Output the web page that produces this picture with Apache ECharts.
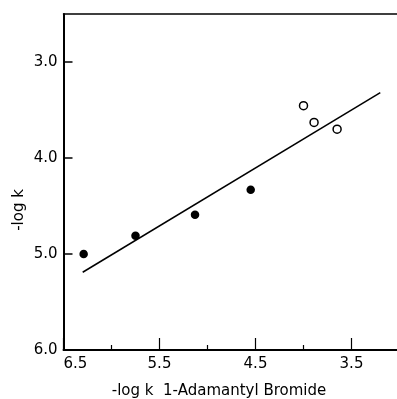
<!DOCTYPE html>
<html>
<head>
<meta charset="utf-8">
<script src="https://cdn.jsdelivr.net/npm/echarts@6/dist/echarts.min.js"></script>
<style>
html,body{margin:0;padding:0;background:#fff;overflow:hidden;}
#chart{width:397px;height:399px;overflow:hidden;}
</style>
</head>
<body>
<div id="chart"></div>
<script>
// Data
var filledX = [6.29, 5.75, 5.13, 4.55];
var filledY = [5.00, 4.81, 4.59, 4.33];
var openX = [4.00, 3.89, 3.65];
var openY = [3.455, 3.63, 3.70];
var fitX = [6.30, 3.20];
var fitY = [5.19, 3.32];
var xMajorTicks = [6.5, 5.5, 4.5, 3.5];
var xMinorTicks = [6.0, 5.0, 4.0];
var yTicks = [3.0, 4.0, 5.0, 6.0];
var xTitle = '-log k  1-Adamantyl Bromide';
var yTitle = '-log k';

function pairs(xs, ys){ return xs.map(function(x,i){ return [x, ys[i]]; }); }

var font = 'DejaVu Sans';
var chart = echarts.init(document.getElementById('chart'), null, {renderer:'canvas'});
chart.setOption({
  animation: false,
  backgroundColor: '#fff',
  grid: {left: 63.5, top: 14, width: 336, height: 336, outerBoundsMode: 'none', containLabel: false},
  xAxis: [{
    type: 'value', min: 3.0, max: 6.5, inverse: true, position: 'bottom',
    axisLine: {show: true, onZero: false, lineStyle: {color: '#000', width: 2}},
    axisTick: {show: true, inside: true, length: 12, customValues: xMajorTicks, lineStyle: {color: '#000', width: 1.2}},
    axisLabel: {show: true, customValues: xMajorTicks, margin: 7, color: '#000', fontFamily: font, fontSize: 15,
      alignMinLabel: 'left',
      formatter: function(v){ return v.toFixed(1); }},
    splitLine: {show: false}
  },{
    type: 'value', min: 3.0, max: 6.5, inverse: true, position: 'bottom', offset: 0,
    axisLine: {show: false, onZero: false},
    axisTick: {show: true, inside: true, length: 5, customValues: xMinorTicks, lineStyle: {color: '#000', width: 1.2}},
    axisLabel: {show: false},
    splitLine: {show: false}
  },{
    type: 'value', min: 3.0, max: 6.5, inverse: true, position: 'top',
    axisLine: {show: true, onZero: false, lineStyle: {color: '#000', width: 1.5}},
    axisTick: {show: false},
    axisLabel: {show: false},
    splitLine: {show: false}
  }],
  yAxis: {
    type: 'value', min: 2.5, max: 6.0, inverse: true,
    axisLine: {show: true, onZero: false, lineStyle: {color: '#000', width: 2}},
    axisTick: {show: true, inside: true, length: 9, customValues: [3.0, 4.0, 5.0], lineStyle: {color: '#000', width: 1.5}},
    axisLabel: {show: true, customValues: yTicks, margin: 6, color: '#000', fontFamily: font, fontSize: 15,
      formatter: function(v){ return v.toFixed(1); }},
    splitLine: {show: false}
  },
  graphic: [
    {type: 'text', x: 219, y: 391, style: {text: xTitle, fill: '#000', font: '15px "DejaVu Sans"', textAlign: 'center', textVerticalAlign: 'middle'}},
    {type: 'text', x: 19, y: 210, rotation: Math.PI/2, style: {text: yTitle, fill: '#000', font: '15px "DejaVu Sans"', textAlign: 'center', textVerticalAlign: 'middle'}}
  ],
  series: [
    {type: 'line', xAxisIndex: 0, data: pairs(fitX, fitY), symbol: 'none', lineStyle: {color: '#000', width: 1.5}},
    {type: 'scatter', xAxisIndex: 0, data: pairs(filledX, filledY), symbol: 'circle', symbolSize: 8.5, itemStyle: {color: '#000', opacity: 1}},
    {type: 'scatter', xAxisIndex: 0, data: pairs(openX, openY), symbol: 'circle', symbolSize: 8, itemStyle: {color: '#fff', borderColor: '#000', borderWidth: 1.5, opacity: 1}}
  ]
});
</script>
</body>
</html>
